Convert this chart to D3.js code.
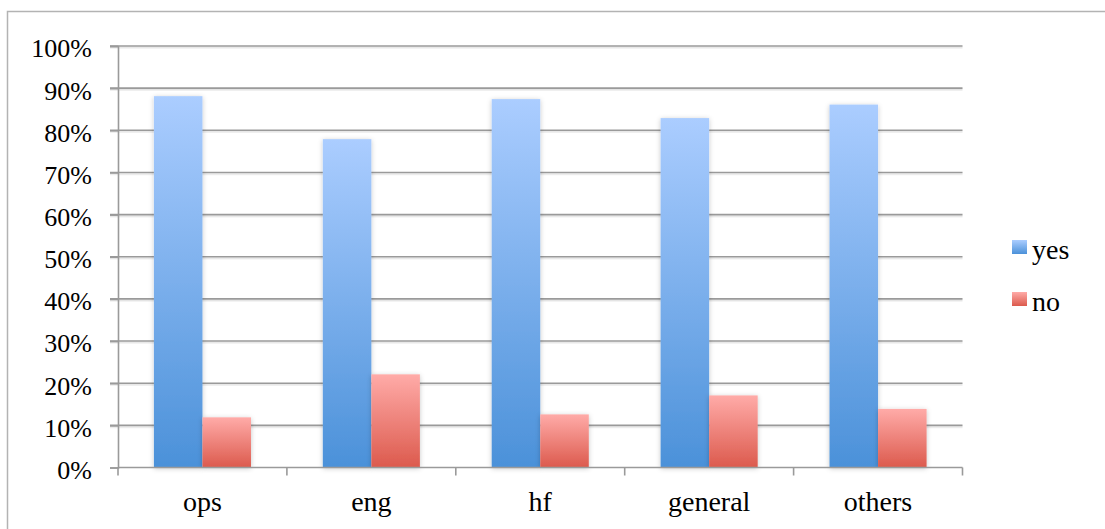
<!DOCTYPE html>
<html>
<head>
<meta charset="utf-8">
<script src="https://cdn.jsdelivr.net/npm/d3@7/dist/d3.min.js"></script>
<style>
  html, body { margin: 0; padding: 0; background: #fff; }
  svg { display: block; }
  text { font-family: "Liberation Serif", "Times New Roman", serif; fill: #000; }
</style>
</head>
<body>
<svg id="chart" width="1105" height="529"></svg>
<script>
// Survey answers by group (share of respondents)
const categories = ["ops", "eng", "hf", "general", "others"];
const seriesNames = ["yes", "no"];
const yesValues = [0.881, 0.779, 0.874, 0.829, 0.861];
const noValues  = [0.119, 0.221, 0.126, 0.171, 0.139];
const yTicks = [0, 0.1, 0.2, 0.3, 0.4, 0.5, 0.6, 0.7, 0.8, 0.9, 1.0];

const rows = categories.map((c, i) => ({ cat: c, yes: yesValues[i], no: noValues[i] }));

const svg = d3.select("#chart");
const margin = { left: 118, right: 1105 - 962.5, top: 46, bottom: 529 - 467.5 };
const W = 1105, H = 529;
const serif = "'Liberation Serif', 'Times New Roman', serif";

// outer frame
svg.append("rect")
  .attr("x", 7.5).attr("y", 11.5)
  .attr("width", 1200).attr("height", 600)
  .attr("fill", "none").attr("stroke", "#b3b3b3").attr("stroke-width", 1.5);

const defs = svg.append("defs");
const grads = { yes: ["#abcdff", "#4b91d9"], no: ["#ffaba8", "#dc5a4d"] };
Object.entries(grads).forEach(([k, [top, bot]]) => {
  const g = defs.append("linearGradient").attr("id", "grad-" + k)
    .attr("x1", 0).attr("y1", 0).attr("x2", 0).attr("y2", 1);
  g.append("stop").attr("offset", "0%").attr("stop-color", top);
  g.append("stop").attr("offset", "100%").attr("stop-color", bot);
});
const f = defs.append("filter").attr("id", "shadow")
  .attr("x", "-30%").attr("y", "-10%").attr("width", "160%").attr("height", "120%");
f.append("feDropShadow").attr("dx", 0).attr("dy", 1).attr("stdDeviation", 2.5)
  .attr("flood-color", "#000").attr("flood-opacity", 0.22);
const gf = defs.append("filter").attr("id", "lineshadow")
  .attr("x", "-5%").attr("y", "-200%").attr("width", "110%").attr("height", "500%");
gf.append("feDropShadow").attr("dx", 0).attr("dy", 1.5).attr("stdDeviation", 0.6)
  .attr("flood-color", "#000").attr("flood-opacity", 0.12);

const x0 = d3.scaleBand().domain(categories)
  .range([margin.left, W - margin.right]).paddingInner(0).paddingOuter(0);
const x1 = d3.scaleBand().domain(seriesNames)
  .range([0, x0.bandwidth()]).paddingInner(0).paddingOuter(0.74);
const y = d3.scaleLinear().domain([0, 1]).range([H - margin.bottom, margin.top]);

// horizontal gridlines
svg.append("g").attr("filter", "url(#lineshadow)")
  .selectAll("line").data(yTicks.slice(1)).join("line")
  .attr("x1", margin.left - 8).attr("x2", W - margin.right)
  .attr("y1", d => y(d)).attr("y2", d => y(d))
  .attr("stroke", "#9a9a9a").attr("stroke-width", 1.6);

// y axis
const yAxis = svg.append("g").attr("transform", `translate(${margin.left},0)`)
  .call(d3.axisLeft(y).tickValues(yTicks).tickFormat(d3.format(".0%")).tickSize(8).tickPadding(18));
yAxis.attr("font-family", null);
yAxis.select(".domain").attr("stroke", "#9a9a9a").attr("stroke-width", 1.6);
yAxis.selectAll(".tick line").attr("stroke", "#9a9a9a").attr("stroke-width", 1.6);
yAxis.selectAll(".tick text").attr("font-size", 26).attr("dy", "0.42em")
  .style("font-family", serif).attr("fill", "#000");

// bars
const groups = svg.append("g").selectAll("g").data(rows).join("g")
  .attr("transform", d => `translate(${x0(d.cat)},0)`);
groups.selectAll("rect")
  .data(d => seriesNames.map(k => ({ key: k, value: d[k] })))
  .join("rect")
  .attr("x", d => x1(d.key))
  .attr("width", x1.bandwidth())
  .attr("y", d => y(d.value))
  .attr("height", d => y(0) - y(d.value))
  .attr("fill", d => `url(#grad-${d.key})`)
  .attr("filter", "url(#shadow)");

// x axis
const xAxis = svg.append("g").attr("transform", `translate(0,${y(0)})`)
  .call(d3.axisBottom(x0).tickSize(0).tickPadding(24));
xAxis.attr("font-family", null);
xAxis.select(".domain").remove();
svg.append("line")
  .attr("x1", margin.left).attr("x2", W - margin.right)
  .attr("y1", y(0)).attr("y2", y(0))
  .attr("stroke", "#9a9a9a").attr("stroke-width", 1.6);
svg.append("g").selectAll("line")
  .data(categories.map(c => x0(c)).concat([x0(categories[categories.length - 1]) + x0.bandwidth()]))
  .join("line")
  .attr("x1", d => d).attr("x2", d => d)
  .attr("y1", y(0)).attr("y2", y(0) + 8)
  .attr("stroke", "#9a9a9a").attr("stroke-width", 1.6);
xAxis.selectAll(".tick text").attr("font-size", 28)
  .style("font-family", serif).attr("fill", "#000");

// legend
const legend = svg.append("g").attr("transform", "translate(1012,240)");
seriesNames.forEach((k, i) => {
  const g = legend.append("g").attr("transform", `translate(0,${i * 52})`);
  g.append("rect").attr("width", 15).attr("height", 14).attr("fill", `url(#grad-${k})`);
  g.append("text").attr("x", 20).attr("y", 19).attr("font-size", 28)
    .style("font-family", serif).text(k);
});
</script>
</body>
</html>
